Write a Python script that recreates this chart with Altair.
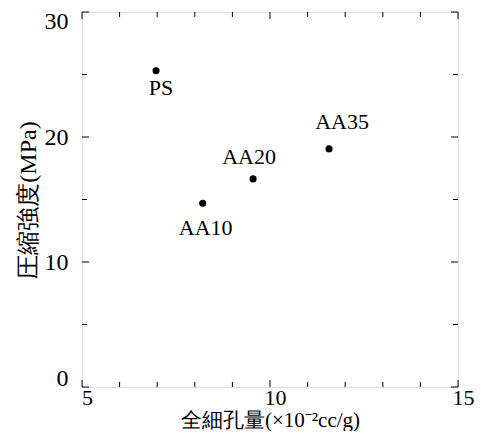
import altair as alt
import pandas as pd

names = ["PS", "AA10", "AA20", "AA35"]
pore_volume = [6.97, 8.21, 9.55, 11.57]
strength = [25.3, 14.7, 16.65, 19.05]

x_major = [5, 10, 15]
x_minor = [6, 7, 8, 9, 11, 12, 13, 14]
y_major = [0, 10, 20, 30]
y_minor = [5, 15, 25]

W, H = 376, 375
SERIF = "Liberation Serif"

df = pd.DataFrame({"name": names, "x": pore_volume, "y": strength})

xs = alt.Scale(domain=[5, 15], nice=False, zero=False)
ys = alt.Scale(domain=[0, 30], nice=False, zero=False)

x_axis = alt.Axis(values=x_major, ticks=False, domain=False, grid=False,
                  labelFont=SERIF, labelFontSize=22, labelColor="black",
                  labelFlush=False, labelOffset=5, labelPadding=0,
                  title="全細孔量(×10⁻²cc/g)", titleFont=SERIF, titleFontSize=21,
                  titleFontWeight="normal", titleColor="black",
                  titleY=33, titleBaseline="middle")
y_axis = alt.Axis(values=y_major, ticks=False, domain=False, grid=False,
                  labelFont=SERIF, labelFontSize=24, labelColor="black",
                  labelFlush=True, labelFlushOffset=3, labelPadding=14,
                  title="圧縮強度(MPa)", titleFont=SERIF, titleFontSize=24,
                  titleFontWeight="normal", titleColor="black", titlePadding=4)

points = alt.Chart(df).mark_circle(size=50, color="black", opacity=1).encode(
    x=alt.X("x:Q", scale=xs, axis=x_axis),
    y=alt.Y("y:Q", scale=ys, axis=y_axis),
)

label_offsets = {"PS": (5, 17), "AA10": (3, 25), "AA20": (-4, -22), "AA35": (13, -27)}
labels = []
for n in names:
    dx, dy = label_offsets[n]
    labels.append(
        alt.Chart(df).transform_filter(alt.datum.name == n)
        .mark_text(font=SERIF, fontSize=22, color="black", dx=dx, dy=dy, baseline="middle")
        .encode(x=alt.X("x:Q", scale=xs), y=alt.Y("y:Q", scale=ys), text="name:N")
    )


def xticks(vals, length):
    d = pd.DataFrame({"v": vals})
    bottom = alt.Chart(d).mark_rule(color="black", strokeWidth=1).encode(
        x=alt.X("v:Q", scale=xs), y=alt.value(H), y2=alt.value(H - length))
    top = alt.Chart(d).mark_rule(color="black", strokeWidth=1).encode(
        x=alt.X("v:Q", scale=xs), y=alt.value(0), y2=alt.value(length))
    return [bottom, top]


def yticks(vals, length):
    d = pd.DataFrame({"v": vals})
    left = alt.Chart(d).mark_rule(color="black", strokeWidth=1).encode(
        y=alt.Y("v:Q", scale=ys), x=alt.value(0), x2=alt.value(length))
    right = alt.Chart(d).mark_rule(color="black", strokeWidth=1).encode(
        y=alt.Y("v:Q", scale=ys), x=alt.value(W), x2=alt.value(W - length))
    return [left, right]


ticks = xticks(x_major, 7) + xticks(x_minor, 5) + yticks(y_major, 7) + yticks(y_minor, 5)

chart = alt.layer(*ticks, points, *labels).properties(
    width=W, height=H,
    autosize=alt.AutoSizeParams(type="none"),
    padding={"left": 74, "top": 4, "right": 28, "bottom": 44},
).configure_view(stroke="black", strokeWidth=1.5).configure(background="white")

chart.save("out.html", embed_options={"renderer": "svg", "actions": False})
